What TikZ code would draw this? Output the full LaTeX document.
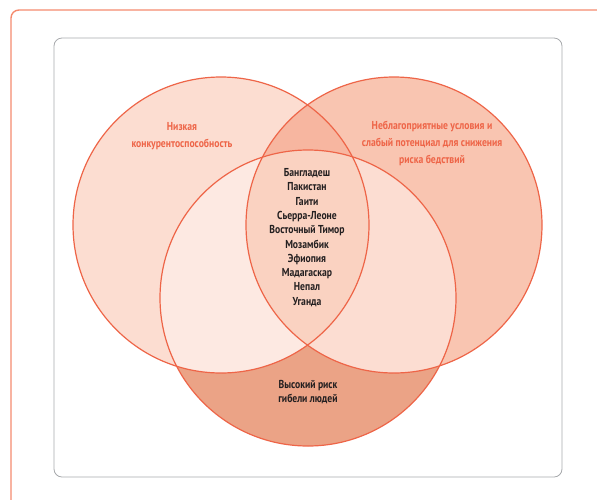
\documentclass[tikz,border=0pt]{standalone}
\usepackage{fontspec}
\newfontfamily\vennfont{PT Sans}[FakeStretch=0.84]
\usetikzlibrary{positioning}

\definecolor{vennline}{HTML}{EE6548}
\definecolor{frameline}{HTML}{F58B6E}
\definecolor{boxline}{HTML}{A7A9AC}
\definecolor{leftfill}{HTML}{FCDDD1}
\definecolor{rightfill}{HTML}{F9C5B1}
\definecolor{toplens}{HTML}{F7B6A0}
\definecolor{lowfill}{HTML}{EBA386}
\definecolor{lowleft}{HTML}{FDE9E2}
\definecolor{lowright}{HTML}{FCDDD2}
\definecolor{midfill}{HTML}{FAD2C1}
\definecolor{darktext}{HTML}{231F20}

\tikzset{
  setlabel/.style={font=\vennfont\bfseries\fontsize{11.5}{16.8}\selectfont,
    text=vennline, align=center, inner sep=0.75pt},
  darklabel/.style={setlabel, text=darktext,
    font=\vennfont\bfseries\fontsize{11.5}{14.3}\selectfont},
  vennring/.style={draw=vennline, line width=1.2pt}
}

\begin{document}
\begin{tikzpicture}[x=1pt,y=1pt,yscale=-1,xscale=1]
\useasboundingbox (0,0) rectangle (597,499);
\clip (0,0) rectangle (597,499);

%outer frame, runs off the page right and below
\draw [frameline, line width=1.4pt, rounded corners=8pt] (11,10) rectangle (640,530);
%inner box
\draw [boxline, line width=0.8pt, rounded corners=8pt] (54,38) rectangle (562,477);

\coordinate (cl) at (221,225);
\coordinate (cr) at (394,225);
\coordinate (cb) at (308,298);
\def\rad{148}

%circle fills
\fill [leftfill] (cl) circle (\rad);
\fill [rightfill] (cr) circle (\rad);
\begin{scope}
  \clip (cl) circle (\rad);
  \fill [toplens] (cr) circle (\rad);
\end{scope}
\fill [lowfill] (cb) circle (\rad);
\begin{scope}
  \clip (cb) circle (\rad);
  \fill [lowleft] (cl) circle (\rad);
  \fill [lowright] (cr) circle (\rad);
  \clip (cl) circle (\rad);
  \fill [midfill] (cr) circle (\rad);
\end{scope}

%circle outlines
\draw [vennring] (cl) circle (\rad);
\draw [vennring] (cr) circle (\rad);
\draw [vennring] (cb) circle (\rad);

% Text Node
\node (lowcomp) [setlabel] at (182,136.5) {Низкая\\конкурентоспособность};
% Text Node
\node (weakdrr) [setlabel] at (432,143.5) {Неблагоприятные условия и\\слабый потенциал для снижения\\риска бедствий};
% Text Node
\node (highrisk) [darklabel] at (308,392) {Высокий риск\\гибели людей};
% Text Node
\node (countries) [darklabel] at (307,237.5) {Бангладеш\\Пакистан\\Гаити\\Сьерра-Леоне\\Восточный Тимор\\Мозамбик\\Эфиопия\\Мадагаскар\\Непал\\Уганда};

\end{tikzpicture}
\end{document}
